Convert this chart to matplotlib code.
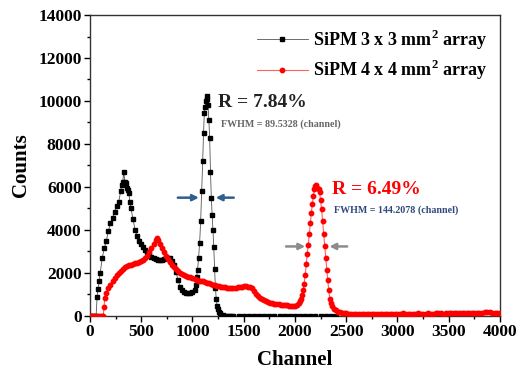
import matplotlib
matplotlib.use("Agg")
import matplotlib.pyplot as plt
from matplotlib.ticker import MultipleLocator

plt.rcParams["font.family"] = "Liberation Serif"
plt.rcParams["font.weight"] = "bold"
plt.rcParams["mathtext.fontset"] = "custom"
plt.rcParams["mathtext.rm"] = "Liberation Serif:bold"
plt.rcParams["mathtext.bf"] = "Liberation Serif:bold"

# SiPM 3 x 3 mm2 array spectrum
black_ch = [0, 20, 40, 60, 70, 80, 90, 100, 120, 140, 160, 180, 200, 220, 240, 260, 280, 300,
            310, 320, 330, 340, 350, 360, 370, 380, 390, 400, 420, 440, 460, 480, 500, 520, 540,
            560, 580, 600, 620, 640, 660, 680, 700, 720, 740, 760, 780, 800, 820, 840, 860, 880,
            900, 920, 940, 960, 980, 1000, 1020, 1030, 1040, 1050, 1060, 1070, 1080, 1090, 1100,
            1108, 1116, 1124, 1132, 1138, 1144, 1152, 1160, 1168, 1176, 1184, 1192, 1200, 1208,
            1216, 1224, 1232, 1240, 1250, 1260, 1270, 1280, 1300]
black_counts = [0, 0, 0, 0, 900, 1250, 1600, 2000, 2700, 3150, 3500, 3950, 4300, 4550, 4850, 5100,
                5300, 5800, 6100, 6250, 6700, 6250, 6200, 5950, 5850, 5700, 5300, 5000, 4500, 4000,
                3700, 3500, 3350, 3200, 3050, 2950, 2850, 2750, 2700, 2650, 2600, 2600, 2600, 2650,
                2700, 2700, 2700, 2550, 2350, 2050, 1650, 1350, 1200, 1120, 1080, 1060, 1060, 1100,
                1200, 1450, 1800, 2150, 2700, 3400, 4400, 5800, 7200, 8500, 9450, 9700, 10000, 10250,
                10100, 9800, 9100, 8300, 6700, 5500, 4700, 4000, 3200, 2200, 1300, 800, 480, 300,
                200, 120, 60, 20]
black_tail_ch = [1320, 1340, 1360, 1380, 1400, 1450, 1500, 1550, 1600, 1650, 1700, 1750, 1800,
                 1850, 1900, 1950, 2000, 2050, 2100, 2150, 2200, 2250, 2300, 2350, 2400]
black_tail_counts = [10, 0, 0, 0, 0, 0, 0, 0, 0, 0, 0, 0, 0,
                     0, 0, 0, 0, 0, 0, 0, 0, 0, 0, 0, 0]

# SiPM 4 x 4 mm2 array spectrum
red_ch = [0, 20, 40, 60, 80, 100, 120, 130, 137, 146, 160, 180, 200, 220, 240, 260, 280, 300, 320,
          340, 360, 380, 400, 420, 440, 460, 480, 500, 520, 540, 560, 580, 600, 620, 640, 650, 660,
          680, 700, 720, 740, 760, 780, 800, 820, 840, 860, 880, 900, 920, 940, 960, 980, 1000,
          1020, 1040, 1060, 1080, 1100, 1120, 1140, 1160, 1180, 1200, 1220, 1240, 1260, 1280, 1300,
          1320, 1340, 1360, 1380, 1400, 1420, 1440, 1460, 1480, 1500, 1520, 1540, 1560, 1580, 1600,
          1620, 1640, 1660, 1680, 1700, 1720, 1740, 1760, 1780, 1800, 1820, 1840, 1860, 1880, 1900,
          1920, 1940, 1960, 1980, 2000, 2020, 2040, 2050, 2060, 2070, 2080, 2090, 2100, 2110, 2120,
          2130, 2140, 2150, 2160, 2170, 2180, 2190, 2200, 2210, 2220, 2230, 2240, 2250, 2260, 2270,
          2280, 2290, 2300, 2310, 2320, 2330, 2340, 2350, 2360, 2380, 2400, 2420, 2440, 2460, 2480,
          2500]
red_counts = [0, 0, 0, 0, 0, 0, 0, 0, 430, 840, 1050, 1290, 1450, 1630, 1760, 1880, 2000, 2100,
              2200, 2250, 2300, 2350, 2380, 2400, 2440, 2470, 2520, 2560, 2610, 2700, 2800, 2950,
              3150, 3350, 3550, 3620, 3550, 3330, 3150, 2950, 2800, 2640, 2500, 2380, 2280, 2180,
              2080, 2000, 1950, 1910, 1870, 1830, 1800, 1770, 1720, 1680, 1640, 1600, 1600, 1570,
              1540, 1510, 1480, 1450, 1420, 1390, 1370, 1350, 1330, 1320, 1310, 1300, 1290, 1290,
              1300, 1320, 1340, 1360, 1370, 1370, 1360, 1330, 1280, 1150, 1020, 920, 850, 780, 730,
              680, 640, 610, 590, 570, 550, 530, 520, 510, 500, 490, 480, 470, 470, 480, 520, 600,
              670, 800, 950, 1200, 1500, 1900, 2400, 2900, 3300, 3800, 4300, 4800, 5200, 5600, 5900,
              6050, 6100, 5950, 5900, 5750, 5400, 4950, 4400, 3800, 3250, 2700, 2150, 1650, 1200,
              800, 600, 450, 330, 250, 200, 160, 140, 120, 110]
red_tail_ch = [2525, 2550, 2575, 2600, 2625, 2650, 2675, 2700, 2725, 2750, 2775, 2800, 2825, 2850,
               2875, 2900, 2925, 2950, 2975, 3000, 3025, 3050, 3075, 3100, 3125, 3150, 3175, 3200,
               3225, 3250, 3275, 3300, 3325, 3350, 3375, 3400, 3425, 3450, 3475, 3500, 3525, 3550,
               3575, 3600, 3625, 3650, 3675, 3700, 3725, 3750, 3775, 3800, 3825, 3850, 3875, 3900,
               3925, 3950, 3975, 4000]
red_tail_counts = [105, 100, 100, 95, 100, 105, 100, 95, 100, 100, 105, 100, 95, 100, 100, 105,
                   100, 100, 95, 100, 105, 110, 100, 100, 95, 100, 105, 110, 100, 100, 105, 110,
                   100, 105, 110, 115, 110, 105, 110, 115, 120, 115, 110, 120, 125, 115, 120, 130,
                   120, 125, 135, 140, 150, 170, 180, 160, 140, 130, 120, 110]

fig = plt.figure(figsize=(5.17, 3.76), dpi=100)
ax = fig.add_axes([0.174, 0.160, 0.793, 0.800])

ax.plot(black_ch + black_tail_ch, black_counts + black_tail_counts, color="#555555", lw=0.6,
        marker="s", ms=2.4, mfc="black", mec="black", label="SiPM 3 x 3 mm$^{2}$ array", zorder=3)
ax.plot(red_ch + red_tail_ch, red_counts + red_tail_counts, color="#ff6060", lw=0.8,
        marker="o", ms=3.2, mfc="red", mec="red", label="SiPM 4 x 4 mm$^{2}$ array", zorder=4)

ax.set_xlim(0, 4000)
ax.set_ylim(0, 14000)
ax.xaxis.set_major_locator(MultipleLocator(500))
ax.xaxis.set_minor_locator(MultipleLocator(250))
ax.yaxis.set_major_locator(MultipleLocator(2000))
ax.yaxis.set_minor_locator(MultipleLocator(1000))
ax.tick_params(which="major", direction="out", length=4, width=1, labelsize=12.5, pad=2)
ax.tick_params(which="minor", direction="out", length=2.5, width=1)
for s in ax.spines.values():
    s.set_color("#333333")
    s.set_linewidth(1)

ax.set_xlabel("Channel", fontsize=15, fontweight="bold", labelpad=7)
ax.set_ylabel("Counts", fontsize=15, fontweight="bold", labelpad=5)

ax.legend(loc="upper right", frameon=False, fontsize=13, handlelength=2.8, handletextpad=0.3,
          borderaxespad=0.3, labelspacing=0.35)

ax.text(1250, 9950, "R = 7.84%", fontsize=14, fontweight="bold", color="#222222", va="center")
ax.text(1280, 8900, "FWHM = 89.5328 (channel)", fontsize=7.2, fontweight="bold",
        color="#666666", va="center")
ax.text(2360, 5880, "R = 6.49%", fontsize=14, fontweight="bold", color="red", va="center")
ax.text(2380, 4900, "FWHM = 144.2078 (channel)", fontsize=7.2, fontweight="bold",
        color="#2f4a7a", va="center")

arrow_blue = dict(arrowstyle="-|>", color="#2e5f8f", lw=1.8, mutation_scale=9)
ax.annotate("", xy=(1090, 5500), xytext=(830, 5500), arrowprops=arrow_blue)
ax.annotate("", xy=(1200, 5500), xytext=(1430, 5500), arrowprops=arrow_blue)
arrow_gray = dict(arrowstyle="-|>", color="#8c8c8c", lw=1.8, mutation_scale=9)
ax.annotate("", xy=(2127, 3230), xytext=(1886, 3230), arrowprops=arrow_gray)
ax.annotate("", xy=(2309, 3230), xytext=(2537, 3230), arrowprops=arrow_gray)

fig.savefig("out.png", dpi=100)
